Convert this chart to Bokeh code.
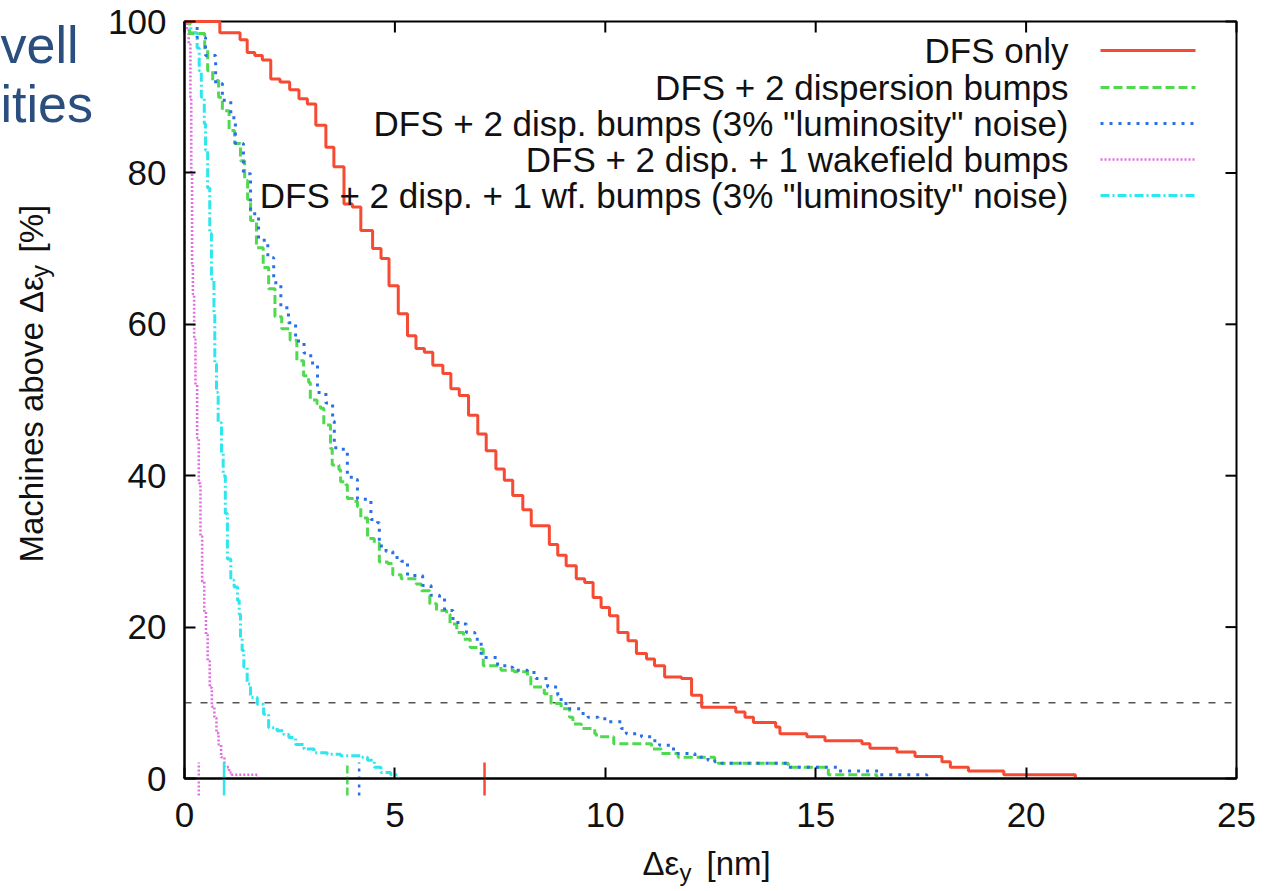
import math
from bokeh.plotting import figure
from bokeh.models import Range1d, FixedTicker, Label
from bokeh.embed import file_html
from bokeh.resources import INLINE

# ---------------- data ----------------
series_names = [
    "DFS only",
    "DFS + 2 dispersion bumps",
    'DFS + 2 disp. bumps (3% "luminosity" noise)',
    "DFS + 2 disp. + 1 wakefield bumps",
    'DFS + 2 disp. + 1 wf. bumps (3% "luminosity" noise)',
]

red_x = [0, 0.84, 1.32, 1.49, 1.67, 1.85, 2.05, 2.27, 2.50, 2.72, 2.92, 3.12, 3.36, 3.55, 3.79,
         3.99, 4.19, 4.47, 4.67, 4.86, 5.08, 5.30, 5.50, 5.70, 5.90, 6.14, 6.33, 6.53, 6.75, 6.97,
         7.17, 7.40, 7.60, 7.80, 8.04, 8.24, 8.67, 8.87, 9.07, 9.31, 9.51, 9.71, 9.90, 10.10,
         10.30, 10.54, 10.74, 10.98, 11.17, 11.41, 11.81, 12.05, 12.29, 13.10, 13.32, 13.52,
         14.05, 14.15, 14.79, 15.22, 16.10, 16.29, 16.93, 17.36, 18.00, 18.20, 18.63, 19.47, 21.17]
red_y = [100, 98.5, 97.6, 95.9, 95.5, 94.9, 92.4, 92.0, 91.0, 89.8, 89.1, 86.3, 83.4, 80.8, 75.9,
         75.5, 72.4, 70.0, 68.7, 65.1, 61.4, 58.5, 56.8, 56.3, 54.6, 53.5, 51.5, 50.6, 48.0, 45.5,
         43.3, 40.9, 39.4, 37.4, 35.5, 33.4, 30.9, 29.5, 28.1, 26.4, 25.9, 23.9, 22.6, 21.5,
         19.3, 18.2, 16.5, 15.8, 14.9, 13.4, 13.2, 11.0, 9.4, 8.8, 8.1, 7.4,
         6.8, 5.9, 5.5, 5.0, 4.6, 4.0, 3.5, 2.9, 2.2, 1.5, 1.0, 0.5, 0]

green_x = [0, 0.12, 0.48, 0.55, 0.67, 0.81, 0.90, 1.06, 1.19, 1.33, 1.43, 1.50, 1.57, 1.71, 1.87,
           2.00, 2.15, 2.31, 2.51, 2.67, 2.83, 2.95, 2.99, 3.15, 3.23, 3.31, 3.47, 3.51, 3.67, 3.71,
           3.83, 3.87, 4.03, 4.11, 4.19, 4.35, 4.51, 4.63, 4.83, 4.95, 5.15, 5.51, 5.63, 5.83, 5.99,
           6.23, 6.31, 6.47, 6.63, 6.79, 6.99, 7.10, 7.52, 7.83, 8.15, 8.23, 8.55, 8.71, 8.95, 9.15,
           9.23, 9.43, 9.75, 9.79, 10.20, 11.10, 11.33, 11.73, 12.60, 12.68, 14.35, 15.30, 16.45]
green_y = [100, 98.4, 96.2, 93.5, 92.2, 90.0, 88.2, 85.6, 83.9, 81.6, 79.0, 76.5, 73.7, 70.1, 67.5,
           64.7, 61.0, 59.4, 57.9, 55.2, 53.2, 52.3, 50.0, 49.5, 48.9, 46.7, 43.6, 41.4, 40.8, 39.2,
           38.8, 37.0, 36.6, 35.9, 34.4, 31.7, 31.1, 28.6, 28.4, 26.9, 26.4, 25.7, 24.8, 23.1, 22.2,
           21.7, 20.4, 19.3, 18.4, 17.3, 17.1, 14.9, 14.3, 14.1, 13.6, 12.1, 11.2, 9.9, 9.2, 8.1,
           7.2, 6.6, 5.9, 5.5, 4.6, 3.9, 3.3, 2.8, 2.2, 2.0, 1.5, 0.5, 0]

blue_x = [0, 0.30, 0.50, 0.74, 0.90, 1.10, 1.21, 1.40, 1.57, 1.76, 1.98, 2.12, 2.29, 2.47, 2.64,
          2.84, 3.00, 3.16, 3.36, 3.52, 3.56, 3.71, 3.87, 4.07, 4.11, 4.43, 4.59, 4.63, 4.79, 4.95,
          5.15, 5.30, 5.66, 5.86, 6.06, 6.18, 6.38, 6.58, 6.70, 6.90, 7.05, 7.44, 7.68, 7.80, 8.15,
          8.35, 8.63, 8.87, 8.95, 9.15, 9.43, 9.59, 9.83, 10.06, 10.38, 10.50, 10.86, 11.14, 11.29,
          11.57, 11.73, 12.13, 12.44, 12.60, 12.76, 14.35, 15.54, 16.50, 17.64]
blue_y = [100, 97.9, 95.5, 91.8, 89.6, 87.3, 83.9, 79.9, 74.6, 71.1, 68.8, 65.5, 62.2, 60.2, 57.8,
          56.2, 54.9, 51.0, 49.6, 47.2, 43.7, 43.5, 39.8, 39.5, 36.9, 34.2, 33.8, 30.7, 30.0, 29.2,
          28.7, 26.8, 25.5, 24.2, 23.9, 22.2, 20.6, 20.4, 19.3, 18.4, 16.0, 14.9, 14.7, 14.3, 14.0,
          13.2, 12.1, 11.0, 9.9, 9.2, 8.6, 8.1, 7.9, 7.5, 6.6, 5.9, 5.5, 5.0, 4.4,
          3.9, 3.3, 2.8, 2.4, 2.2, 2.0, 1.5, 1.0, 0.5, 0]

magenta_x = [0, 0.06, 0.10, 0.14, 0.16, 0.18, 0.20, 0.23, 0.26, 0.30, 0.34, 0.38, 0.42, 0.47, 0.51,
             0.55, 0.60, 0.65, 0.71, 0.76, 0.81, 0.87, 0.95, 1.06, 1.12, 1.73]
magenta_y = [100, 99.0, 97.0, 90.0, 80.0, 68.0, 64.0, 58.0, 52.0, 45.0, 39.0, 32.0, 26.0, 22.0, 19.0,
             15.5, 12.0, 9.5, 8.0, 6.0, 4.5, 2.8, 1.5, 0.8, 0.5, 0]

cyan_x = [0, 0.15, 0.30, 0.35, 0.40, 0.47, 0.50, 0.55, 0.60, 0.64, 0.70, 0.72, 0.76, 0.80, 0.88,
          0.92, 0.97, 1.02, 1.10, 1.18, 1.26, 1.30, 1.33, 1.37, 1.41, 1.49, 1.57, 1.73, 1.88, 2.00,
          2.20, 2.36, 2.48, 2.64, 2.84, 3.08, 3.39, 3.71, 4.19, 4.35, 4.51, 4.67, 4.90, 5.08]
cyan_y = [100, 98.5, 96.5, 93.5, 90.0, 86.5, 83.0, 78.0, 72.0, 66.0, 61.4, 54.8, 51.0, 47.0, 43.0,
          40.0, 35.0, 29.0, 26.2, 25.3, 23.5, 21.7, 18.6, 16.9, 14.7, 12.5, 10.7, 9.8, 8.5, 6.7,
          6.3, 5.8, 5.4, 4.5, 3.9, 3.4, 3.2, 3.0, 2.8, 2.4, 1.5, 0.8, 0.5, 0]

# markers drawn across the x axis (one per series)
marker_x = [7.13, 3.87, 4.15, 0.34, 0.94]

threshold = 10
x_ticks = [0, 5, 10, 15, 20, 25]
y_ticks = [0, 20, 40, 60, 80, 100]
X_MAX, Y_MAX = 25, 100

# ---------------- styles / layout ----------------
colors = ["#f64a32", "#4fd94f", "#2b6fe8", "#e070e0", "#2ee6ee"]
dashes = ["solid", "9 4", "3 6", "2 2", "9 3 2 3"]
widths = [3, 3, 3, 2.6, 3]
marker_dashes = ["solid", "8 3", "3 5", "2 2", "solid"]
FONT = "Liberation Sans"
TXT = "#111111"

W, H = 1259, 890
FL, FT, FR, FB = 184, 21, 1236, 778     # plot box edges in canvas pixels
TICK = 11                                # inward tick length, px
MID = 0.35                               # baseline -> text middle, in em

sx = (FR - FL) / X_MAX
sy = (FB - FT) / Y_MAX

def dx(px):
    return (px - FL) / sx

def dy(py):
    return (FB - py) / sy

# the frame covers the whole canvas; the plot box is drawn inside it
p = figure(width=W, height=H,
           x_range=Range1d(dx(0), dx(W)), y_range=Range1d(dy(H), dy(0)),
           output_backend="svg", toolbar_location=None,
           min_border=0, min_border_left=0, min_border_right=0,
           min_border_top=0, min_border_bottom=0)
p.background_fill_color = "white"
p.border_fill_color = "white"
p.outline_line_color = None
p.xgrid.visible = False
p.ygrid.visible = False

def style_axis(ax, ticks, bounds, standoff):
    ax.fixed_location = 0
    ax.bounds = bounds
    ax.ticker = FixedTicker(ticks=ticks)
    ax.axis_line_color = "black"
    ax.axis_line_width = 2
    ax.major_tick_line_color = "black"
    ax.major_tick_line_width = 2
    ax.major_tick_in = TICK
    ax.major_tick_out = 0
    ax.minor_tick_line_color = None
    ax.major_label_text_font = FONT
    ax.major_label_text_font_size = "35px"
    ax.major_label_text_color = TXT
    ax.major_label_standoff = standoff

style_axis(p.xaxis[0], x_ticks, (0, X_MAX), 24)
style_axis(p.yaxis[0], y_ticks, (0, Y_MAX), 18)

# plot box (top and right edges) and mirrored inward ticks
p.quad(left=[0], right=[X_MAX], bottom=[0], top=[Y_MAX], fill_color=None,
       line_color="black", line_width=2)
tx = TICK / sx
ty = TICK / sy
p.segment(x0=x_ticks, y0=[Y_MAX] * len(x_ticks), x1=x_ticks, y1=[Y_MAX - ty] * len(x_ticks),
          line_color="black", line_width=2)
p.segment(x0=[X_MAX] * len(y_ticks), y0=y_ticks, x1=[X_MAX - tx] * len(y_ticks), y1=y_ticks,
          line_color="black", line_width=2)

# threshold line
p.line([0, X_MAX], [threshold, threshold], line_color="#555555", line_width=1.6,
       line_dash="7 9")

xs = [red_x, green_x, blue_x, magenta_x, cyan_x]
ys = [red_y, green_y, blue_y, magenta_y, cyan_y]
order = [3, 4, 1, 2, 0]   # draw red last (on top)
for i in order:
    p.step(xs[i], ys[i], mode="after", line_color=colors[i], line_width=widths[i],
           line_dash=dashes[i])

# markers crossing the x axis
for i in range(5):
    p.segment(x0=[marker_x[i]], y0=[dy(795)], x1=[marker_x[i]], y1=[dy(762)],
              line_color=colors[i], line_width=2.5, line_dash=marker_dashes[i])

# legend (gnuplot style: text on the left, sample on the right)
row_py = [50, 87, 123, 159, 195]
for i in range(5):
    p.add_layout(Label(x=dx(1068), y=dy(row_py[i]), text=series_names[i],
                       text_align="right", text_baseline="middle",
                       text_font=FONT, text_font_size="35px", text_color=TXT))
    p.line([dx(1100), dx(1195)], [dy(row_py[i]), dy(row_py[i])],
           line_color=colors[i], line_width=widths[i], line_dash=dashes[i])

def label(px, py, text, size, angle=0.0, color=TXT):
    p.add_layout(Label(x=dx(px), y=dy(py), text=text, angle=angle,
                       text_align="left", text_baseline="middle", text_font=FONT,
                       text_font_size=f"{size}px", text_color=color))

# x axis label: Δε_y [nm]   (positions are baseline - MID*size)
label(642, 875 - MID * 33, "Δε", 33)
label(679, 880 - MID * 24, "y", 24)
label(706, 875 - MID * 33, "[nm]", 33)

# y axis label: Machines above Δε_y [%]   (rotated; baseline on the right)
label(43 - MID * 33, 562, "Machines above Δε", 33, angle=math.pi / 2)
label(48 - MID * 25, 277, "y", 25, angle=math.pi / 2)
label(43 - MID * 33, 252, "[%]", 33, angle=math.pi / 2)

# slide text fragments at the left edge
label(0, 63 - MID * 52, "vell", 52, color="#2a4f7f")
label(0, 122 - MID * 52, "ities", 52, color="#2a4f7f")

open("out.html", "w").write(file_html(p, INLINE))
